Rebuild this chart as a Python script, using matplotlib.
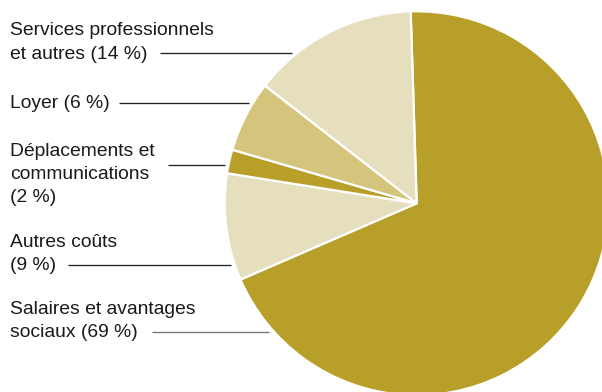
import matplotlib.pyplot as plt

# Répartition des dépenses (%), dans l'ordre horaire depuis le haut
categories = ["Salaires et avantages sociaux", "Autres coûts",
              "Déplacements et communications", "Loyer",
              "Services professionnels et autres"]
shares = [69, 9, 2, 6, 14]
label_lines = [
    ["Salaires et avantages", "sociaux (69 %)"],
    ["Autres coûts", "(9 %)"],
    ["Déplacements et", "communications", "(2 %)"],
    ["Loyer (6 %)"],
    ["Services professionnels", "et autres (14 %)"],
]
colors = ["#b89f29", "#e6dfbe", "#b89f29", "#d5c57c", "#e6dfbe"]

W, H = 602, 392
fig = plt.figure(figsize=(W / 100, H / 100), dpi=100)
ax = fig.add_axes([0, 0, 1, 1])
ax.set_xlim(0, W)
ax.set_ylim(H, 0)
ax.set_aspect("equal")
ax.axis("off")

cx, cy, r = 416.7, 203.3, 192
# y axis is inverted, so counterclock=True draws clockwise on screen
ax.pie(shares, colors=colors, startangle=-91.8, counterclock=True,
       center=(cx, cy), radius=r, frame=True,
       wedgeprops=dict(edgecolor="white", linewidth=1.6))
ax.set_xlim(0, W)
ax.set_ylim(H, 0)
ax.axis("off")

# baseline of first text line, line spacing, leader line (y, x0, x1, colour)
text_first_baseline = [313.5, 247, 156, 108.3, 35.3]
leaders = [
    (331.7, 152, 269, "#777777"),
    (265.3, 68, 231, "#222222"),
    (164.5, 168, 225, "#222222"),
    (102.5, 119, 249, "#222222"),
    (53.0, 160, 292, "#222222"),
]
step = 23.2
for lines, y0, (ly, x0, x1, lc) in zip(label_lines, text_first_baseline, leaders):
    for i, t in enumerate(lines):
        ax.text(10, y0 + i * step, t, fontsize=13.9, family="Liberation Sans",
                color="#1a1a1a", ha="left", va="baseline")
    ax.plot([x0, x1], [ly, ly], color=lc, lw=0.95, solid_capstyle="butt")

fig.savefig("out.png", dpi=100, facecolor="white")
